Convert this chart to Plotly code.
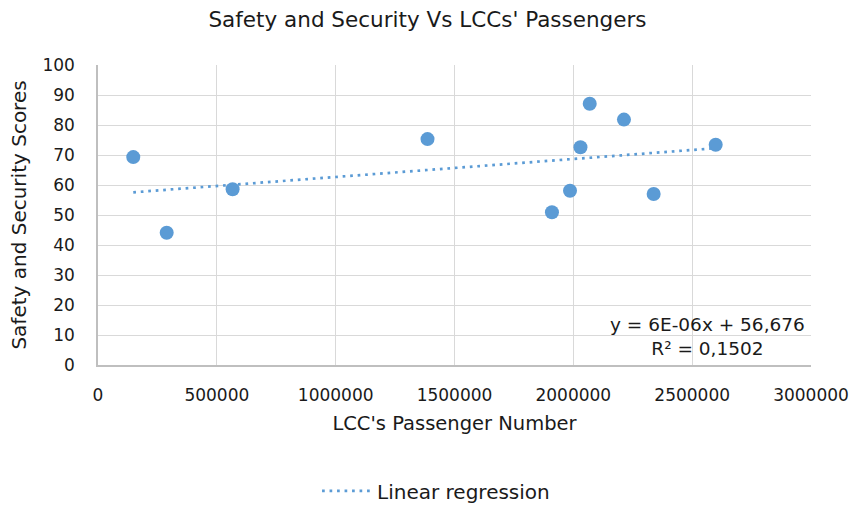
import plotly.graph_objects as go

# LCC passenger numbers and safety & security scores
passengers = [148400, 289000, 566400, 1386500, 1910000, 1986000,
              2030000, 2069000, 2213000, 2338000, 2599000]
scores = [69.3, 44.1, 58.6, 75.3, 50.9, 58.1, 72.6, 87.1, 81.8, 57.0, 73.4]

# Linear trendline coefficients (as shown in the equation label)
slope = 6e-06
intercept = 56.676
r_squared = "0,1502"

x_ticks = [0, 500000, 1000000, 1500000, 2000000, 2500000, 3000000]
y_ticks = [0, 10, 20, 30, 40, 50, 60, 70, 80, 90, 100]

FONT = "DejaVu Sans"
BLUE = "#5B9BD5"
TEXT = "#1a1a1a"

trend_x = [min(passengers), max(passengers)]
trend_y = [intercept + slope * v for v in trend_x]

fig = go.Figure()
fig.add_trace(go.Scatter(
    x=passengers, y=scores, mode="markers",
    marker=dict(color=BLUE, size=14, line=dict(width=0)),
    showlegend=False, name="Scores",
))
fig.add_trace(go.Scatter(
    x=trend_x, y=trend_y, mode="lines",
    line=dict(color=BLUE, width=2.7, dash="2.7px,4.8px"),
    name="Linear regression",
))

fig.add_annotation(
    x=0.995, y=0.012, xref="paper", yref="paper",
    xanchor="right", yanchor="bottom", align="center",
    text=f"y = 6E-06x + 56,676<br>R² = {r_squared}",
    showarrow=False, font=dict(family=FONT, size=18.5, color=TEXT),
)

fig.update_layout(
    width=855, height=506,
    margin=dict(l=98, r=44, t=65, b=141, autoexpand=False),
    paper_bgcolor="white", plot_bgcolor="white",
    font=dict(family=FONT, size=17, color=TEXT),
    title=dict(text="Safety and Security Vs LCCs' Passengers",
               x=0.5, xanchor="center", y=0.962, yanchor="middle",
               font=dict(family=FONT, size=21.5, color=TEXT)),
    legend=dict(orientation="h", x=0.51, xanchor="center",
                xref="container", y=0.03, yref="container", yanchor="middle",
                itemwidth=50,
                font=dict(family=FONT, size=20, color=TEXT)),
    xaxis=dict(
        range=[0, 3000000], tickvals=x_ticks, automargin=False,
        ticktext=[str(v) for v in x_ticks],
        tickfont=dict(family=FONT, size=17, color=TEXT),
        showgrid=True, gridcolor="#d9d9d9", gridwidth=1.3,
        showline=True, linecolor="#bfbfbf", linewidth=1.5,
        zeroline=False, ticks="", ticklabelstandoff=14,
        title=dict(text="LCC's Passenger Number", standoff=12,
                   font=dict(family=FONT, size=19.5, color=TEXT)),
    ),
    yaxis=dict(
        range=[0, 100], tickvals=y_ticks, automargin=False,
        tickfont=dict(family=FONT, size=17, color=TEXT),
        showgrid=True, gridcolor="#d9d9d9", gridwidth=1.3,
        showline=True, linecolor="#bfbfbf", linewidth=1.5,
        zeroline=False, ticks="", ticklabelstandoff=18,
        title=dict(text="Safety and Security Scores", standoff=10,
                   font=dict(family=FONT, size=20, color=TEXT)),
    ),
)

fig.write_html("out.html")
